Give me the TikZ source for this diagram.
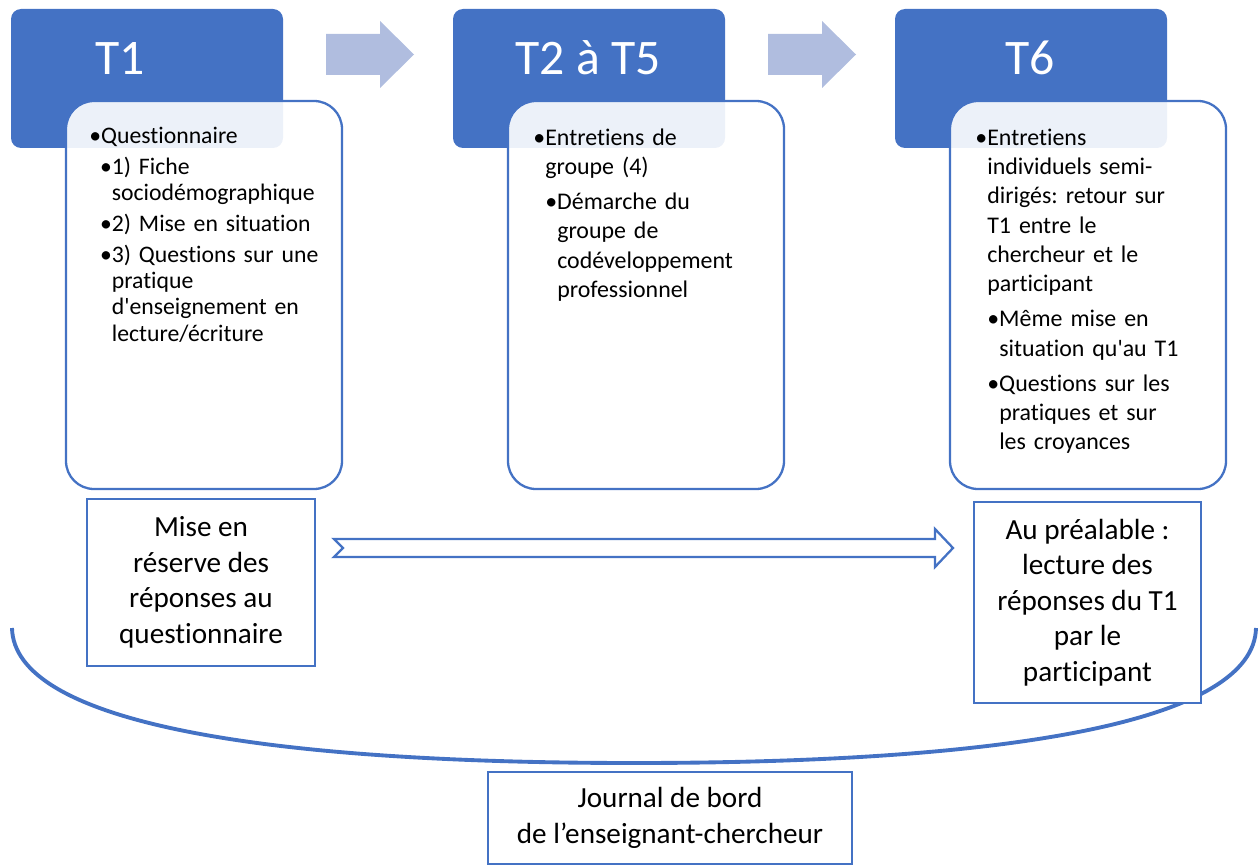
\documentclass[tikz,border=0pt]{standalone}
\usepackage{fontspec}
\setmainfont{Carlito}[Ligatures={NoCommon,NoContextual}, RawFeature={-liga;-clig;-calt;-dlig}]
\frenchspacing
\definecolor{accent}{HTML}{4472C4}
\definecolor{paleblue}{HTML}{B0BDDF}

% bullet lists with hanging indent
\newlength\itemgap
\newcommand\nl{\hfil\break}
\newcommand\bfirst[2]{\noindent\hangindent=\dimexpr#1+0.5em\relax\hangafter=1\relax
  \hspace*{#1}\rule{0pt}{1em}\makebox[0.5em][l]{\textbullet}#2\par}
\newcommand\bitem[2]{\vspace{\itemgap}\noindent\hangindent=\dimexpr#1+0.5em\relax\hangafter=1\relax
  \hspace*{#1}\makebox[0.5em][l]{\textbullet}#2\par}

\begin{document}
\begin{tikzpicture}[x=0.02cm,y=-0.02cm,
  hdr/.style={fill=accent, rounded corners=0.2cm},
  card/.style={draw=accent, line width=1.3pt, fill=white, fill opacity=0.9, rounded corners=0.56cm},
  hdrtext/.style={text=white, anchor=base, inner sep=0pt, font=\fontsize{28.3pt}{34pt}\selectfont},
  smalllist/.style={anchor=north west, inner sep=0pt, text width=142pt, align=left,
    font=\fontsize{13.5pt}{14.9pt}\selectfont\frenchspacing\setlength\itemgap{2.7pt}},
  biglist/.style={anchor=north west, inner sep=0pt, text width=142pt, align=left,
    font=\fontsize{13.6pt}{16.7pt}\selectfont\frenchspacing\setlength\itemgap{3.2pt}},
  note/.style={draw=accent, line width=1.2pt, fill=white, align=center, inner sep=2pt,
    font=\fontsize{16.6pt}{20.2pt}\selectfont\frenchspacing},
  blockarrow/.style={fill=paleblue}
]
\useasboundingbox (0,0) rectangle (1258,865);

% phase headers
\path[hdr] (11,9) rectangle (283,148);
\path[hdr] (453,9) rectangle (725,148);
\path[hdr] (895,9) rectangle (1167,148);

% arrows between phases
\path[blockarrow] (326,34) -- (380,34) -- (380,21) -- (414,54.5) -- (380,88) -- (380,75) -- (326,75) -- cycle;
\path[blockarrow] (768,34) -- (822,34) -- (822,21) -- (856,54.5) -- (822,88) -- (822,75) -- (768,75) -- cycle;

\node[hdrtext] (t1) at (120,75) {T1};
\node[hdrtext] (t2) at (588,75) {T2 à T5};
\node[hdrtext] (t6) at (1030,75) {T6};

% content cards
\path[card] (66,101) rectangle (342,489);
\path[card] (508,101) rectangle (784,489);
\path[card] (950,101) rectangle (1226,489);

\node[smalllist] (c1) at (89,119.5) {%
  \bfirst{0pt}{Questionnaire}%
  \bitem{0.45em}{1) Fiche\nl sociodémographique}%
  \bitem{0.45em}{2) Mise en situation}%
  \bitem{0.45em}{3) Questions sur une\nl pratique\nl d\textquotesingle enseignement en\nl lecture/écriture}};

\node[biglist] (c2) at (533,121) {%
  \bfirst{0pt}{Entretiens de\nl groupe (4)}%
  \bitem{0.5em}{Démarche du\nl groupe de\nl codéveloppement\nl professionnel}};

\node[biglist] (c6) at (975,121) {%
  \bfirst{0pt}{Entretiens\nl individuels semi-\nl dirigés: retour sur\nl T1 entre le\nl chercheur et le\nl participant}%
  \bitem{0.5em}{Même mise en\nl situation qu\textquotesingle au T1}%
  \bitem{0.5em}{Questions sur les\nl pratiques et sur\nl les croyances}};

% bracket spanning the whole process
\draw[accent, line width=2.2pt] (12,628) .. controls (14,720) and (250,763) .. (634,763)
  .. controls (1018,763) and (1254,720) .. (1256,628);

% notes below the cards
\node[note, minimum width=4.56cm, minimum height=3.34cm] (mise) at (201,582.5)
  {Mise en\\réserve des\\réponses au\\questionnaire};
\node[note, minimum width=4.54cm, minimum height=4.02cm] (prea) at (1087.5,602.5)
  {Au préalable :\\lecture des\\réponses du T1\\par le\\participant};

% notched arrow linking the two notes
\draw[accent, line width=1.3pt, fill=white, line join=miter]
  (334,539) -- (935,539) -- (935,529) -- (953,548) -- (935,567) -- (935,557)
  -- (334,557) -- (343,548) -- cycle;

\node[note, minimum width=7.28cm, minimum height=1.84cm] (journal) at (670,818)
  {Journal de bord\\de l’enseignant-chercheur};
\end{tikzpicture}
\end{document}
